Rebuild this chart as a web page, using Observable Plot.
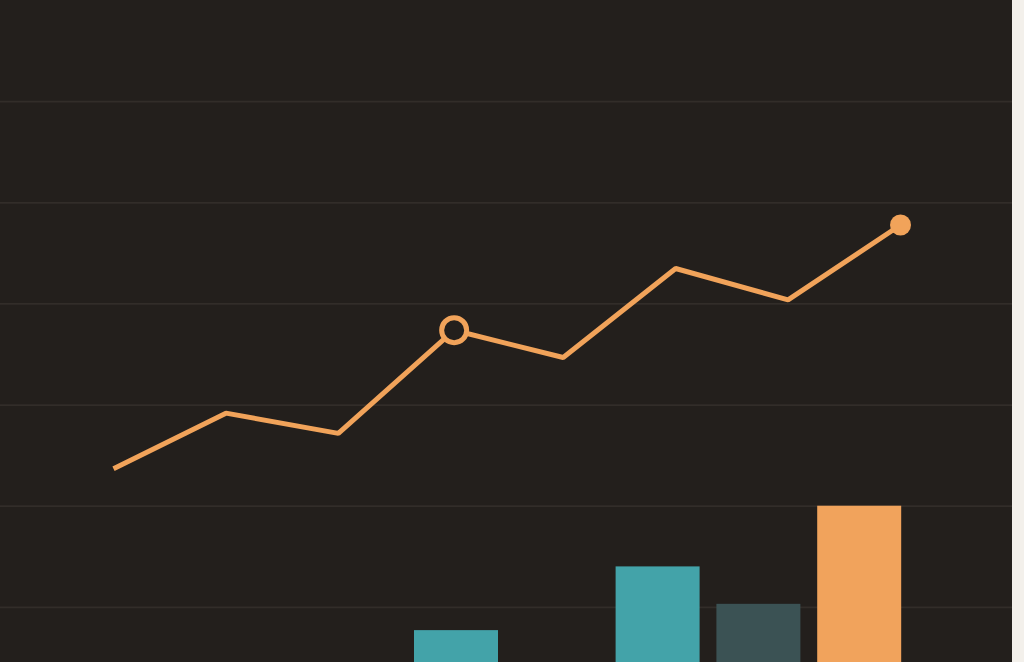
<!DOCTYPE html>
<html>
<head>
<meta charset="utf-8">
<script src="https://cdn.jsdelivr.net/npm/d3@7"></script>
<script src="https://cdn.jsdelivr.net/npm/@observablehq/plot@0.6"></script>
<style>
  html, body { margin: 0; padding: 0; background: #f3f0eb; overflow: hidden; }
  #wrap { position: relative; width: 1012px; height: 662px; background: #231f1c; }
  #wrap svg { position: absolute; left: 0; top: 0; background: transparent; }
</style>
</head>
<body>
<div id="wrap"></div>
<script>
// Line series (position along x, value on shared y scale)
const lineIndex = [0, 1, 2, 3.03, 4, 5, 6, 7];
const lineValues = [23.7, 29.2, 27.2, 37.4, 34.7, 43.5, 40.4, 47.8];
const highlightPoint = 3;   // open circle marker (array position)
const lastPoint = 7;        // filled dot marker (array position)

// Bar series (one category falls below the visible area)
const barCategories = ["A", "B", "C", "D", "E"];
const barValues = [7.7, null, 14.0, 10.3, 20.0];
const barGroups = ["teal", "teal", "teal", "slate", "orange"];

const gridTicks = [10, 20, 30, 40, 50, 60];

const lineData = lineIndex.map((i, k) => ({ k, i, v: lineValues[k] }));
const barData = barCategories.map((c, k) => ({ c, v: barValues[k], g: barGroups[k] })).filter(d => d.v != null);

const W = 1012, H = 662;
const yScale = { domain: [0, 70], range: [708, 0] };
const ORANGE = "#f1a35a";

const barsPlot = Plot.plot({
  width: W, height: H,
  marginTop: 0, marginRight: 0, marginBottom: 0, marginLeft: 0,
  style: { background: "transparent", overflow: "hidden" },
  x: { type: "band", domain: barCategories, range: [397.2, 918.0], padding: 0.1667, round: false, axis: null },
  y: { ...yScale, axis: null },
  color: { domain: ["teal", "slate", "orange"], range: ["#43a3a9", "#3b5254", "#f1a35c"] },
  marks: [
    Plot.gridY(gridTicks, { stroke: "#322d29", strokeOpacity: 1, strokeWidth: 1.7 }),
    Plot.barY(barData, { x: "c", y: "v", fill: "g", insetLeft: 0, insetRight: 0 })
  ]
});

const linePlot = Plot.plot({
  width: W, height: H,
  marginTop: 0, marginRight: 0, marginBottom: 0, marginLeft: 0,
  style: { background: "transparent", overflow: "hidden" },
  x: { type: "linear", domain: [0, 7], range: [113, 900], axis: null },
  y: { ...yScale, axis: null },
  marks: [
    Plot.line(lineData, { x: "i", y: "v", stroke: ORANGE, strokeWidth: 5, strokeLinejoin: "miter", strokeLinecap: "butt" }),
    Plot.dot(lineData.filter(d => d.k === highlightPoint), { x: "i", y: "v", r: 12.5, fill: "#231f1c", stroke: ORANGE, strokeWidth: 5 }),
    Plot.dot(lineData.filter(d => d.k === lastPoint), { x: "i", y: "v", r: 10.5, fill: ORANGE, stroke: "none" })
  ]
});

const wrap = document.getElementById("wrap");
wrap.appendChild(barsPlot);
wrap.appendChild(linePlot);
</script>
</body>
</html>
